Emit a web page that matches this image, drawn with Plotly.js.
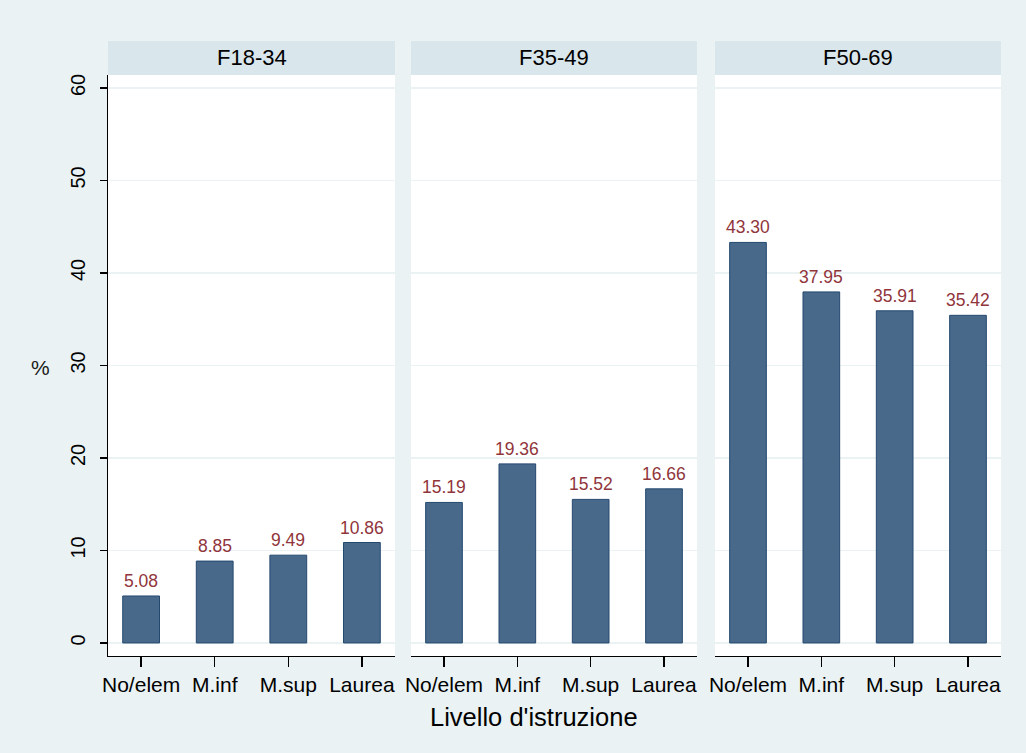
<!DOCTYPE html>
<html>
<head>
<meta charset="utf-8">
<script src="https://cdn.plot.ly/plotly-3.0.1.min.js"></script>
<style>html,body{margin:0;padding:0;background:#EAF2F3;} #chart{width:1026px;height:753px;}</style>
</head>
<body>
<div id="chart"></div>
<script>
var categories = ["No/elem", "M.inf", "M.sup", "Laurea"];
var panels = ["F18-34", "F35-49", "F50-69"];
var valuesF1834 = [5.08, 8.85, 9.49, 10.86];
var valuesF3549 = [15.19, 19.36, 15.52, 16.66];
var valuesF5069 = [43.30, 37.95, 35.91, 35.42];
var yTicks = [0, 10, 20, 30, 40, 50, 60];
var xTitle = "Livello d'istruzione";
var yTitle = "%";

var series = [valuesF1834, valuesF3549, valuesF5069];
var font = "Liberation Sans, Arial, Helvetica, sans-serif";
var W = 1026, H = 753;
var mL = 108, mR = 25, mT = 75, mB = 97;
var pw = W - mL - mR;
var ph = H - mT - mB;
var panelPx = [[108, 395], [411, 697], [715, 1001]];
var domains = panelPx.map(function (p) { return [(p[0] - mL) / pw, (p[1] - mL) / pw]; });

var traces = [];
var annotations = [];
var shapes = [];
var layout = {
  width: W, height: H,
  margin: {l: mL, r: mR, t: mT, b: mB, pad: 0},
  paper_bgcolor: "#EAF2F3",
  plot_bgcolor: "#FFFFFF",
  showlegend: false,
  bargap: 0.5,
  font: {family: font, color: "#000000"}
};

series.forEach(function (vals, i) {
  var sfx = i === 0 ? "" : String(i + 1);
  traces.push({
    type: "bar",
    x: categories,
    y: vals,
    xaxis: "x" + sfx,
    yaxis: "y" + sfx,
    marker: {color: "#48698A", line: {color: "#24496F", width: 1}},
    hoverinfo: "x+y"
  });
  layout["xaxis" + sfx] = {
    domain: domains[i],
    anchor: "y" + sfx,
    type: "category",
    range: [-0.45, 3.45],
    showgrid: false,
    zeroline: false,
    showline: true,
    linecolor: "#000000",
    linewidth: 1.3,
    ticks: "outside",
    ticklen: 10,
    tickcolor: "#000000",
    tickwidth: 1.3,
    ticklabelstandoff: -1,
    tickfont: {family: font, size: 21, color: "#000000"}
  };
  layout["yaxis" + sfx] = {
    domain: [0, 1],
    anchor: "x" + sfx,
    range: [-1.41, 61.4],
    tickvals: yTicks,
    showgrid: true,
    gridcolor: "#EAF2F3",
    gridwidth: 1.3,
    zeroline: false,
    showline: i === 0,
    linecolor: "#000000",
    linewidth: 1.3,
    ticks: i === 0 ? "outside" : "",
    ticklen: 7,
    tickcolor: "#000000",
    tickwidth: 1.3,
    showticklabels: i === 0,
    tickangle: -90,
    ticklabelstandoff: 7,
    tickfont: {family: font, size: 20, color: "#000000"}
  };
  if (i > 0) layout["yaxis" + sfx].matches = "y";
  shapes.push({
    type: "rect", xref: "paper", yref: "paper",
    x0: domains[i][0], x1: domains[i][1],
    y0: 1, y1: 1 + 34 / ph,
    fillcolor: "#D9E6EB", line: {width: 0}, layer: "below"
  });
  annotations.push({
    xref: "paper", yref: "paper",
    x: (domains[i][0] + domains[i][1]) / 2, y: 1 + 17 / ph,
    xanchor: "center", yanchor: "middle",
    text: panels[i], showarrow: false,
    font: {family: font, size: 22, color: "#000000"}
  });
  vals.forEach(function (v, j) {
    annotations.push({
      xref: "x" + sfx, yref: "y" + sfx,
      x: categories[j], y: v,
      xanchor: "center", yanchor: "bottom", yshift: 3,
      text: v.toFixed(2), showarrow: false,
      font: {family: font, size: 17.5, color: "#90353B"}
    });
  });
});

annotations.push({
  xref: "paper", yref: "paper",
  x: (534 - mL) / pw, y: -(717 - (H - mB)) / ph,
  xanchor: "center", yanchor: "middle",
  text: xTitle, showarrow: false,
  font: {family: font, size: 25.5, color: "#000000"}
});
annotations.push({
  xref: "paper", yref: "paper",
  x: -(mL - 40) / pw, y: (H - mB - 367) / ph,
  xanchor: "center", yanchor: "middle",
  text: yTitle, showarrow: false,
  font: {family: font, size: 21, color: "#1a1a1a"}
});

layout.annotations = annotations;
layout.shapes = shapes;

Plotly.newPlot("chart", traces, layout, {displayModeBar: false, staticPlot: true});
</script>
</body>
</html>
